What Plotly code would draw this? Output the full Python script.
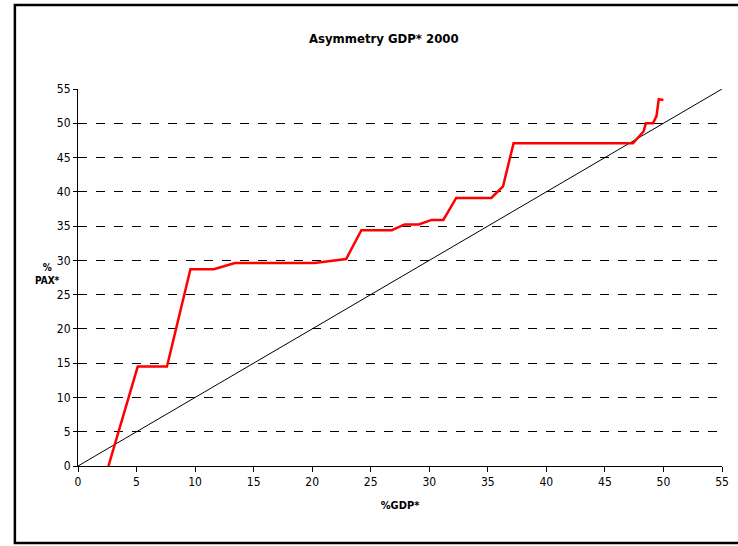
import plotly.graph_objects as go

gdp_pct = [2.6, 5.1, 7.6, 9.6, 11.6, 13.4, 20.2, 22.9, 24.2, 26.8, 27.9, 29.1, 30.2, 31.2,
           32.3, 35.3, 36.3, 37.2, 47.4, 48.3, 48.5, 49.1, 49.4, 49.6, 50.0]
pax_pct = [0.0, 14.5, 14.5, 28.7, 28.7, 29.6, 29.6, 30.2, 34.4, 34.4, 35.25, 35.25, 35.9, 35.9,
           39.1, 39.1, 40.8, 47.1, 47.1, 48.8, 50.0, 50.0, 51.0, 53.5, 53.4]
diag = [0, 55]
ticks = list(range(0, 56, 5))

FONT = "Liberation Sans Narrow, Arial Narrow, DejaVu Sans Condensed, Liberation Sans, sans-serif"

fig = go.Figure()
fig.add_trace(go.Scatter(x=diag, y=diag, mode="lines",
                         line=dict(color="black", width=1), showlegend=False))
fig.add_trace(go.Scatter(x=gdp_pct, y=pax_pct, mode="lines",
                         line=dict(color="#ff0000", width=2.5), showlegend=False))

fig.update_layout(
    width=738, height=546,
    margin=dict(l=78, r=16, t=89, b=80, autoexpand=False),
    paper_bgcolor="white", plot_bgcolor="white",
    font=dict(family=FONT, size=12, color="black"),
    title=dict(text="<b>Asymmetry GDP* 2000</b>", x=0.52, xanchor="center",
               y=0.93, yanchor="middle", font=dict(size=13, family=FONT)),
    xaxis=dict(range=[0, 55], tickvals=ticks, showgrid=False, zeroline=False,
               automargin=False,
               showline=True, linecolor="black", linewidth=1,
               ticks="outside", ticklen=5, tickcolor="black",
               title=dict(text="<b>%GDP*</b>", font=dict(size=11), standoff=12)),
    yaxis=dict(range=[0, 55], tickvals=ticks, showgrid=True, gridcolor="black",
               griddash="dash", gridwidth=1, zeroline=False, automargin=False,
               showline=True, linecolor="black", linewidth=1,
               ticks="outside", ticklen=4, tickcolor="black"),
    annotations=[dict(text="<b>%<br>PAX*</b>", xref="paper", yref="paper",
                      x=-0.07, y=0.51, showarrow=False, align="center",
                      font=dict(size=10, family=FONT))],
    shapes=[dict(type="rect", xref="paper", yref="paper",
                 x0=-0.098, x1=1.1, y0=-0.204, y1=1.223,
                 line=dict(color="black", width=2.5), fillcolor="rgba(0,0,0,0)",
                 layer="below")],
)

fig.write_html("out.html", config={"displayModeBar": False},
               post_script="document.body.style.margin='0';document.body.style.overflow='hidden';")
